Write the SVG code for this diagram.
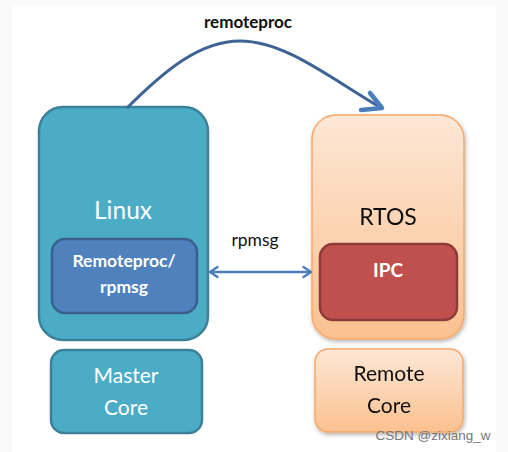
<svg xmlns="http://www.w3.org/2000/svg" width="508" height="452" viewBox="0 0 508 452">
<defs>
<linearGradient id="og" x1="0" y1="0" x2="0" y2="1">
<stop offset="0" stop-color="#FDE7D6"/>
<stop offset="1" stop-color="#FBC18F"/>
</linearGradient>
<filter id="sh" x="-10%" y="-10%" width="130%" height="130%">
<feGaussianBlur in="SourceAlpha" stdDeviation="2"/>
<feOffset dx="1" dy="2" result="b"/>
<feComponentTransfer><feFuncA type="linear" slope="0.3"/></feComponentTransfer>
<feMerge><feMergeNode/><feMergeNode in="SourceGraphic"/></feMerge>
</filter>
<marker id="ah" viewBox="0 0 10 10" refX="8.5" refY="5" markerWidth="5" markerHeight="5.5" orient="auto-start-reverse" markerUnits="strokeWidth">
<path d="M2.5,1 L8.5,5 L2.5,9" fill="none" stroke="#4A7EBB" stroke-width="1.9" stroke-linecap="round" stroke-linejoin="round"/>
</marker>
</defs>
<style>
.teal{fill:#4BACC6;stroke:#3A8199;stroke-width:2.5}
.orng{fill:url(#og);stroke:#F8A868;stroke-width:1.5}
.blue{fill:#4F81BD;stroke:#3A5F8C;stroke-width:2.5}
.red{fill:#C0504D;stroke:#8E3A38;stroke-width:2.5}
text{font-family:Lato,"Open Sans","Noto Sans",sans-serif;text-anchor:middle}
.w{fill:#fff}
.k{fill:#111}
</style>
<rect x="0" y="0" width="508" height="452" fill="#FAFAFA"/>
<rect x="12" y="5" width="484" height="447" fill="#fff"/>
<g id="linux">
<rect class="teal" x="39" y="107" width="169" height="233" rx="24"/>
<text class="w" x="123" y="219" font-size="24.5">Linux</text>
</g>
<g id="remoteproc-rpmsg">
<rect class="blue" x="52" y="239" width="145" height="74" rx="13"/>
<text class="w" x="124" y="267" font-size="17.5" font-weight="bold">Remoteproc/</text>
<text class="w" x="124" y="293" font-size="17.5" font-weight="bold">rpmsg</text>
</g>
<g id="rtos" filter="url(#sh)">
<rect class="orng" x="312" y="115" width="152" height="224" rx="24"/>
<text class="k" x="388" y="225" font-size="23">RTOS</text>
</g>
<g id="ipc">
<rect class="red" x="320" y="244" width="137" height="76" rx="13"/>
<text class="w" x="388" y="277" font-size="19" font-weight="bold">IPC</text>
</g>
<g id="master-core">
<rect class="teal" x="51" y="350" width="151" height="83" rx="13"/>
<text class="w" x="126" y="383" font-size="21">Master</text>
<text class="w" x="126" y="415" font-size="21">Core</text>
</g>
<g id="remote-core" filter="url(#sh)">
<rect class="orng" x="315" y="349" width="148" height="83" rx="13"/>
<text class="k" x="389" y="381" font-size="21">Remote</text>
<text class="k" x="389" y="413" font-size="21">Core</text>
</g>
<g id="connectors">
<path d="M127,108 C165,70 200,41 240,41 C285,41 330,78 378,106" fill="none" stroke="#3D6494" stroke-width="3"/>
<path d="M370,93 L382,108 L361,110" fill="none" stroke="#4A7EBB" stroke-width="4.5" stroke-linecap="round" stroke-linejoin="round"/>
<line x1="210" y1="272" x2="311" y2="272" stroke="#4A7EBB" stroke-width="2.5" marker-start="url(#ah)" marker-end="url(#ah)"/>
<text class="k" x="248" y="28" font-size="17" font-weight="bold">remoteproc</text>
<text class="k" x="255" y="246" font-size="17.5">rpmsg</text>
</g>
<text x="433" y="440" font-size="13.5" fill="#777" style="font-family:'Liberation Sans',Arial,sans-serif">CSDN @zixiang_w</text>
</svg>
